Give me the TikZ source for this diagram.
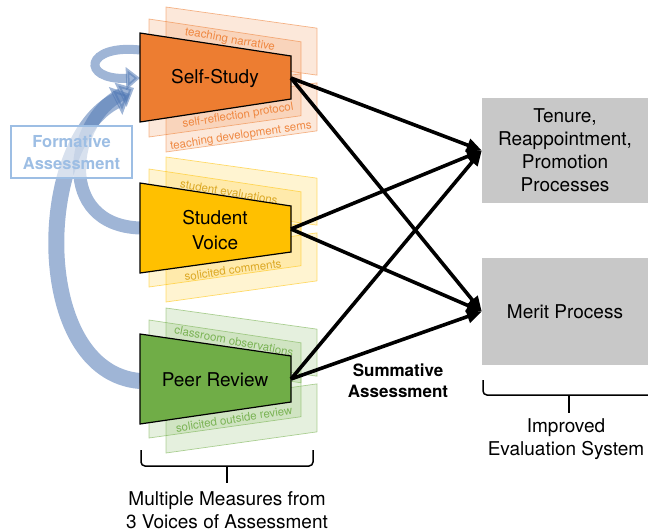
\documentclass[tikz,border=0pt]{standalone}
\usepackage{fontspec}
\setmainfont{TeX Gyre Heros}
\usetikzlibrary{arrows.meta}
\definecolor{cOrange}{RGB}{237,125,49}
\definecolor{cYellow}{RGB}{255,192,0}
\definecolor{cGreen}{RGB}{112,173,71}
\definecolor{cYellowTxt}{RGB}{215,160,20}
\definecolor{boxgray}{RGB}{200,200,200}
\definecolor{bandblue}{RGB}{80,120,180}
\definecolor{formblue}{RGB}{157,190,228}
\newcommand{\mysheet}[6]{\filldraw[sheetstyle=#6] (#1,#3) -- (#2,{#3+(#5)*(#2-#1)}) -- (#2,{#3+(#5)*(#2-#1)+#4}) -- (#1,{#3+#4}) -- cycle;}
\begin{document}
\begin{tikzpicture}[x=1pt,y=-1pt,
  sheetstyle/.style={fill=#1, fill opacity=0.18, draw=#1, draw opacity=0.55, line width=0.7pt},
  trap/.style={draw=black, line width=1.2pt, fill=#1},
  lbl/.style={font=\fontsize{11.5}{13}\selectfont, text=#1, text opacity=0.9, inner sep=0pt},
  mainlbl/.style={font=\fontsize{19}{25}\selectfont, align=center, inner sep=0pt},
  graybox/.style={fill=boxgray, minimum width=166pt, inner sep=0pt, font=\fontsize{19}{23}\selectfont, align=center},
  bigarrow/.style={line width=3.6pt, -{Triangle[length=15pt,width=13pt]}},
  band/.style={draw=bandblue, opacity=0.55},
  bracketline/.style={line width=1.5pt, rounded corners=4pt},
  plaintext/.style={font=\fontsize{19}{22.5}\selectfont, align=center, inner sep=0pt}]
\useasboundingbox (0,0) rectangle (648,531);

% formative bands
\draw[band, line width=16pt, -{Triangle[length=16pt,width=30pt]}] (140,381) .. controls (30,372) and (35,140) .. (130,94);
\draw[band, line width=13pt, -{Triangle[length=15pt,width=26pt]}] (140,228) .. controls (55,225) and (70,120) .. (134,88);
\draw[band, line width=9pt, -{Triangle[length=14pt,width=22pt]}] (140,50) .. controls (85,44) and (80,80) .. (140,78);

% sheets: orange
\mysheet{166}{317}{7}{47}{0.14}{cOrange}
\mysheet{149}{301}{19}{40}{0.15}{cOrange}
\mysheet{149}{301}{95}{42}{-0.14}{cOrange}
\mysheet{166}{317}{104}{48}{-0.14}{cOrange}
% sheets: yellow
\mysheet{166}{317}{157}{47}{0.14}{cYellow}
\mysheet{149}{301}{169}{40}{0.15}{cYellow}
\mysheet{149}{301}{245}{42}{-0.14}{cYellow}
\mysheet{166}{317}{254}{48}{-0.14}{cYellow}
% sheets: green
\mysheet{166}{317}{308}{47}{0.14}{cGreen}
\mysheet{149}{301}{320}{40}{0.15}{cGreen}
\mysheet{149}{301}{396}{42}{-0.14}{cGreen}
\mysheet{166}{317}{405}{48}{-0.14}{cGreen}

% sheet labels
\node[lbl=cOrange, rotate=-10] (l1) at (230,40) {teaching narrative};
\node[lbl=cOrange, rotate=9] (l2) at (238,116) {self-reflection protocol};
\node[lbl=cOrange, rotate=8.5] (l3) at (241,136) {teaching development sems};
\node[lbl=cYellowTxt, rotate=-10] (l4) at (229,192) {student evaluations};
\node[lbl=cYellowTxt, rotate=8] (l5) at (233,270) {solicited comments};
\node[lbl=cGreen, rotate=-11] (l6) at (234,341) {classroom observations};
\node[lbl=cGreen, rotate=9] (l7) at (234,419) {solicited outside review};

% trapezoids
\filldraw[trap=cOrange] (140,33) -- (291,56) -- (291,99) -- (140,122) -- cycle;
\filldraw[trap=cYellow] (140,183) -- (291,206) -- (291,252) -- (140,273) -- cycle;
\filldraw[trap=cGreen] (140,334) -- (291,356) -- (291,402) -- (140,424) -- cycle;
\node[mainlbl] (ssT) at (215,78) {Self-Study};
\node[mainlbl] (svT) at (215,230) {Student\\Voice};
\node[mainlbl] (prT) at (215,380) {Peer Review};
\coordinate (ssR) at (291,78);
\coordinate (svR) at (291,229);
\coordinate (prR) at (291,379);

% formative box
\node[draw=formblue, line width=1.5pt, fill=white, fill opacity=0.6, text opacity=1, text=formblue,
  font=\bfseries\fontsize{16.5}{22}\selectfont, align=center, minimum width=121pt, minimum height=52pt, inner sep=0pt]
  (form) at (71.5,152) {Formative\\Assessment};

% gray boxes
\node[graybox, minimum height=105pt] (trp) at (565,150.5) {Tenure,\\Reappointment,\\Promotion\\Processes};
\node[graybox, minimum height=107pt] (merit) at (565,311.5) {Merit Process};

% summative arrows
\foreach \s in {ssR,svR,prR}{
  \draw[bigarrow] (\s) -- (trp.west);
  \draw[bigarrow] (\s) -- (merit.west);
}
\node[font=\bfseries\fontsize{17}{21}\selectfont, align=center, inner sep=0pt] (summ) at (398,381) {Summative\\Assessment};

% brackets
\coordinate (bl1) at (141,450); \coordinate (bl2) at (313,450);
\coordinate (blm) at (227,466); \coordinate (blt) at (227,483);
\draw[bracketline] (bl1) -- (141,466) -- (313,466) -- (bl2);
\draw[line width=1.5pt] (blm) -- (blt);
\node[plaintext] (mm) at (227,510) {Multiple Measures from\\3 Voices of Assessment};

\coordinate (br1) at (483,380); \coordinate (brm) at (569,395); \coordinate (brt) at (569,413);
\draw[bracketline] (br1) -- (483,395) -- (652,395);
\draw[line width=1.5pt] (brm) -- (brt);
\node[plaintext] (ies) at (566,439) {Improved\\Evaluation System};
\end{tikzpicture}
\end{document}
